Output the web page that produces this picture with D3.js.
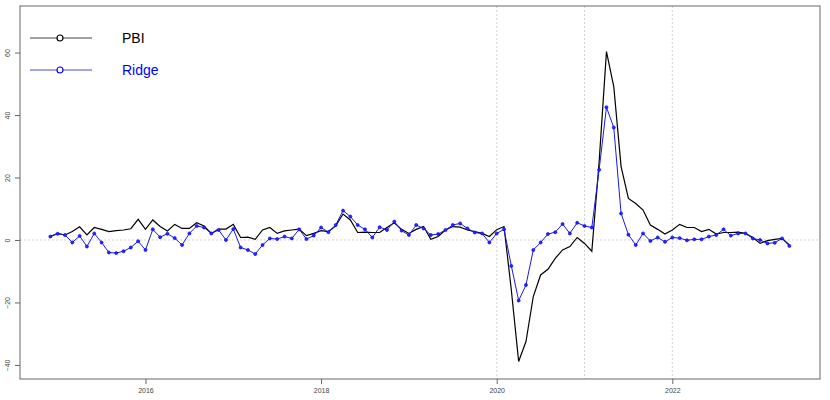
<!DOCTYPE html>
<html>
<head>
<meta charset="utf-8">
<script src="https://cdn.jsdelivr.net/npm/d3@7"></script>
<style>
  body { margin: 0; background: #fff; }
  svg { display: block; font-family: "Liberation Sans", Arial, sans-serif; }
</style>
</head>
<body>
<svg id="chart" width="830" height="400"></svg>
<script>
// monthly series, first month Dec 2014
var startYear = 2014 + 11 / 12;

var pbi = [1.1, 2.1, 1.6, 2.7, 4.2, 1.6, 4.0, 3.4, 2.7, 3.0, 3.2, 3.6,
  6.6, 3.4, 6.4, 4.3, 2.9, 5.0, 3.7, 3.7, 5.5, 4.5, 2.1, 3.5,
  3.5, 5.0, 0.8, 0.9, 0.2, 3.2, 4.0, 2.1, 2.9, 3.2, 3.5, 1.4,
  2.1, 3.0, 2.7, 4.5, 8.3, 6.4, 2.4, 2.5, 2.4, 2.4, 4.0, 5.5,
  3.4, 2.1, 3.4, 4.3, 0.2, 1.1, 3.2, 4.3, 4.1, 3.2, 2.7, 2.1,
  1.1, 3.3, 4.3, -16.0, -38.9, -32.5, -18.1, -11.2, -9.4, -5.9, -3.2, -2.1,
  0.8, -1.1, -3.6, 25.0, 60.3, 49.1, 23.5, 13.3, 11.7, 9.6, 4.8, 3.4,
  1.9, 3.2, 5.0, 4.0, 4.0, 2.7, 3.4, 1.9, 2.4, 2.4, 2.5, 2.1,
  0.8, -1.1, -0.2, 0.2, 0.5, -1.6];

var ridge = [1.1, 2.0, 1.6, -0.8, 1.3, -2.1, 2.1, -0.8, -4.0, -4.2, -3.6, -2.4,
  -0.4, -3.2, 3.4, 0.9, 2.0, 0.6, -1.6, 2.1, 4.5, 4.0, 2.1, 3.2,
  0.0, 3.5, -2.4, -3.2, -4.5, -1.6, 0.5, 0.3, 1.1, 0.5, 3.4, 0.3,
  1.4, 4.0, 2.5, 4.8, 9.4, 7.5, 4.8, 3.4, 0.8, 4.1, 3.2, 5.9,
  3.0, 1.6, 4.8, 3.7, 1.6, 1.9, 3.2, 4.8, 5.3, 3.7, 2.4, 2.1,
  -0.8, 2.1, 3.4, -8.3, -19.4, -14.4, -3.2, -0.8, 1.9, 2.5, 5.1, 2.1,
  5.5, 4.5, 4.0, 22.5, 42.5, 36.0, 8.5, 1.7, -1.6, 2.1, -0.3, 0.8,
  -0.6, 0.8, 0.6, -0.1, 0.2, 0.2, 1.1, 1.6, 3.4, 1.4, 2.1, 2.1,
  0.5, 0.0, -1.1, -0.9, 0.5, -1.9];

var xTicks = [2016, 2018, 2020, 2022];
var yTicks = [-40, -20, 0, 20, 40, 60];
var vGrid = [2020, 2021, 2022];
var seriesNames = ["PBI", "Ridge"];
var seriesColors = ["#000000", "#0000ff"];

var svg = d3.select("#chart");
var pLeft = 20, pRight = 820, pTop = 6, pBottom = 379;

var x = d3.scaleLinear().domain([2014.571, 2023.682]).range([pLeft, pRight]);
var y = d3.scaleLinear().domain([-44.5, 74.9]).range([pBottom, pTop]);

function t(i) { return startYear + i / 12; }

// grid lines
svg.selectAll(".vgrid").data(vGrid).enter().append("line")
  .attr("x1", function(d) { return x(d); })
  .attr("x2", function(d) { return x(d); })
  .attr("y1", pTop).attr("y2", pBottom)
  .attr("stroke", "#c8c8c8").attr("stroke-width", 0.8)
  .attr("stroke-dasharray", "2,2");

svg.append("line")
  .attr("x1", pLeft).attr("x2", pRight)
  .attr("y1", y(0)).attr("y2", y(0))
  .attr("stroke", "#c8c8c8").attr("stroke-width", 0.8)
  .attr("stroke-dasharray", "2,2");

var line = d3.line()
  .x(function(d, i) { return x(t(i)); })
  .y(function(d) { return y(d); });

svg.append("path")
  .datum(pbi)
  .attr("d", line)
  .attr("fill", "none")
  .attr("stroke", seriesColors[0])
  .attr("stroke-width", 1.2);

svg.append("path")
  .datum(ridge)
  .attr("d", line)
  .attr("fill", "none")
  .attr("stroke", "#1a1ae8")
  .attr("stroke-width", 1);

svg.selectAll(".pt").data(ridge).enter().append("circle")
  .attr("cx", function(d, i) { return x(t(i)); })
  .attr("cy", function(d) { return y(d); })
  .attr("r", 1.5)
  .attr("fill", "#2a2aff")
  .attr("stroke", seriesColors[1])
  .attr("stroke-width", 0.7);

// axes
var xAxis = d3.axisBottom(x).tickValues(xTicks).tickFormat(d3.format("d")).tickSize(5).tickSizeOuter(0);
var gx = svg.append("g").attr("transform", "translate(0," + pBottom + ")").call(xAxis);
gx.select(".domain").remove();
gx.selectAll("line").attr("stroke", "#666");
gx.selectAll("text").attr("font-size", 7).attr("fill", "#444").attr("dy", "0.9em");

var yAxis = d3.axisLeft(y).tickValues(yTicks).tickSize(5).tickSizeOuter(0);
var gy = svg.append("g").attr("transform", "translate(" + pLeft + ",0)").call(yAxis);
gy.select(".domain").remove();
gy.selectAll("line").attr("stroke", "#666");
gy.selectAll(".tick text")
  .attr("font-size", 7).attr("fill", "#444")
  .attr("x", 0).attr("y", 0).attr("dy", 0)
  .attr("text-anchor", "middle")
  .attr("transform", "translate(-10,0) rotate(-90)");

// frame
svg.append("rect")
  .attr("x", pLeft).attr("y", pTop)
  .attr("width", pRight - pLeft).attr("height", pBottom - pTop)
  .attr("fill", "none").attr("stroke", "#666").attr("stroke-width", 1);

// legend
var legend = svg.selectAll(".leg").data(seriesNames).enter().append("g")
  .attr("transform", function(d, i) { return "translate(0," + (38 + i * 32) + ")"; });
legend.append("line")
  .attr("x1", 30).attr("x2", 92)
  .attr("stroke", function(d, i) { return i == 0 ? "#444" : "#4a4ad8"; })
  .attr("stroke-width", 1);
legend.append("circle")
  .attr("cx", 60).attr("r", 3)
  .attr("fill", "#fff")
  .attr("stroke", function(d, i) { return seriesColors[i]; })
  .attr("stroke-width", 1.2);
legend.append("text")
  .attr("x", 122).attr("dy", "0.35em")
  .attr("font-size", 14)
  .attr("fill", function(d, i) { return seriesColors[i]; })
  .text(function(d) { return d; });
</script>
</body>
</html>
